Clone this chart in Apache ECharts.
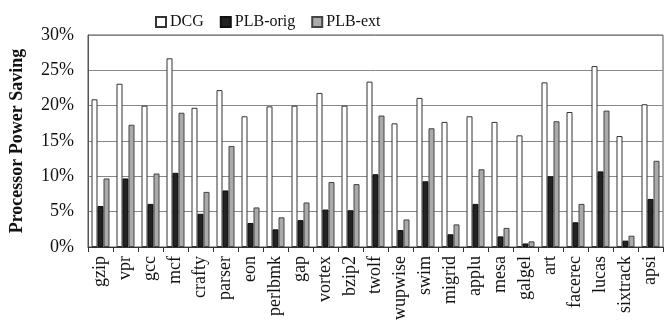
<!DOCTYPE html>
<html>
<head>
<meta charset="utf-8">
<script src="https://cdn.jsdelivr.net/npm/echarts@6/dist/echarts.min.js"></script>
<style>
html,body{margin:0;padding:0;background:#fff;}
#chart{width:664px;height:326px;}
</style>
</head>
<body>
<div id="chart"></div>
<script>
// benchmarks
var benchmarks = ['gzip','vpr','gcc','mcf','crafty','parser','eon','perlbmk','gap','vortex','bzip2','twolf','wupwise','swim','migrid','applu','mesa','galgel','art','facerec','lucas','sixtrack','apsi'];
var dcg = [20.9,23.1,20.0,26.7,19.7,22.2,18.5,19.9,20.0,21.8,20.0,23.4,17.5,21.1,17.7,18.5,17.7,15.8,23.3,19.1,25.6,15.7,20.2];
var plbOrig = [5.8,9.7,6.1,10.5,4.7,8.0,3.4,2.5,3.8,5.3,5.2,10.3,2.4,9.3,1.8,6.1,1.5,0.5,10.0,3.5,10.7,0.9,6.8];
var plbExt = [9.7,17.3,10.4,19.0,7.8,14.3,5.6,4.2,6.3,9.2,8.9,18.6,3.9,16.8,3.2,11.0,2.7,0.8,17.8,6.1,19.3,1.6,12.2];

var serif = '"Liberation Serif","DejaVu Serif",serif';

var myChart = echarts.init(document.getElementById('chart'));
var option = {
	backgroundColor: '#fff',
	animation: false,
	legend: {
		top: 9,
		left: 150,
		itemWidth: 10,
		itemHeight: 10,
		itemGap: 16,
		icon: 'rect',
		textStyle: {fontFamily: serif, fontSize: 16, color: '#111', padding: [0,0,0,-1]},
		data: ['DCG','PLB-orig','PLB-ext']
	},
	grid: {
		left: 88, right: 1, top: 35, bottom: 79,
		show: true, borderColor: '#555', borderWidth: 1
	},
	xAxis: {
		type: 'category',
		data: benchmarks,
		axisLine: {lineStyle: {color: '#333'}},
		axisTick: {show: true, length: 5, lineStyle: {color: '#333'}},
		axisLabel: {
			rotate: 90, interval: 0, margin: 9,
			fontFamily: serif, fontSize: 18, color: '#111'
		}
	},
	yAxis: {
		type: 'value',
		min: 0, max: 30, interval: 5,
		name: 'Processor Power Saving',
		nameLocation: 'middle',
		nameGap: 62,
		nameTextStyle: {fontFamily: serif, fontSize: 18, fontWeight: 'bold', color: '#111'},
		axisLine: {show: true, lineStyle: {color: '#555'}},
		axisTick: {show: false},
		splitLine: {lineStyle: {color: '#888', width: 1}},
		axisLabel: {
			formatter: '{value}%', margin: 14,
			fontFamily: serif, fontSize: 18, color: '#111'
		}
	},
	series: [
		{name: 'DCG', type: 'bar', data: dcg, barGap: '0%', barCategoryGap: '28%',
			itemStyle: {color: '#fff', borderColor: '#333', borderWidth: 1}},
		{name: 'PLB-orig', type: 'bar', data: plbOrig,
			itemStyle: {color: '#222', borderColor: '#111', borderWidth: 1}},
		{name: 'PLB-ext', type: 'bar', data: plbExt,
			itemStyle: {color: '#aaa', borderColor: '#444', borderWidth: 1}}
	]
};
myChart.setOption(option);
</script>
</body>
</html>
